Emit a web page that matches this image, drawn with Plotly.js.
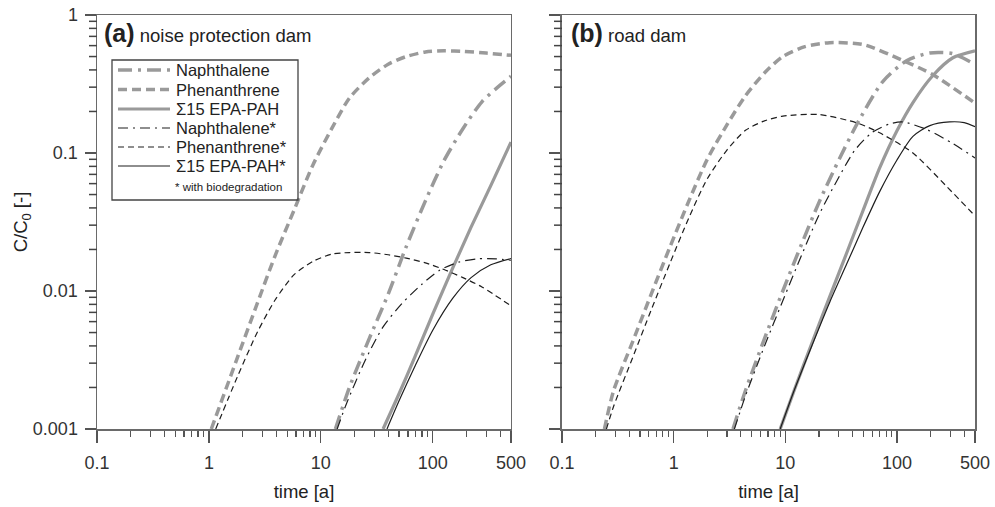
<!DOCTYPE html>
<html>
<head>
<meta charset="utf-8">
<script src="https://cdn.plot.ly/plotly-3.0.1.min.js"></script>
<style>html,body{margin:0;padding:0;background:#fff;}#chart{width:995px;height:507px;}</style>
</head>
<body>
<div id="chart"></div>
<script>
// ---------- data: panel (a) noise protection dam ----------
const seriesNames = ["Naphthalene", "Phenanthrene", "\u03A315 EPA-PAH", "Naphthalene*", "Phenanthrene*", "\u03A315 EPA-PAH*"];
const footnote = "* with biodegradation";

const aNaphT  = [13.5, 18, 27, 40, 58, 86, 126, 186, 275, 400, 500];
const aNaphC  = [0.001, 0.002, 0.0045, 0.0095, 0.021, 0.045, 0.088, 0.15, 0.235, 0.31, 0.36];
const aPhenT  = [1.05, 1.8, 2.7, 3.9, 5.8, 8.5, 12.5, 18, 27, 40, 58, 86, 126, 190, 300, 500];
const aPhenC  = [0.001, 0.0033, 0.0081, 0.018, 0.039, 0.082, 0.15, 0.25, 0.35, 0.44, 0.5, 0.54, 0.55, 0.545, 0.53, 0.51];
const aSumT   = [36, 50, 70, 100, 150, 220, 330, 500];
const aSumC   = [0.001, 0.0018, 0.0034, 0.0068, 0.0145, 0.029, 0.058, 0.12];
const aNaphBT = [14, 16.8, 24.7, 36, 53, 79, 116, 171, 250, 370, 500];
const aNaphBC = [0.001, 0.0015, 0.0031, 0.0055, 0.0081, 0.0111, 0.0142, 0.0162, 0.0171, 0.0171, 0.0167];
const aPhenBT = [1.15, 1.8, 2.7, 3.9, 5.8, 8.5, 12.5, 18, 27, 40, 58, 86, 126, 186, 275, 500];
const aPhenBC = [0.001, 0.0024, 0.005, 0.0086, 0.0132, 0.0164, 0.0185, 0.019, 0.019, 0.0183, 0.0173, 0.016, 0.0143, 0.0125, 0.0107, 0.0078];
const aSumBT  = [39, 50, 70, 100, 150, 220, 330, 500];
const aSumBC  = [0.001, 0.0016, 0.0029, 0.0052, 0.0088, 0.0125, 0.0155, 0.0172];

// ---------- data: panel (b) road dam ----------
const bNaphT  = [3.4, 4.4, 6.5, 9.5, 14, 20, 31, 46, 75, 123, 197, 317, 500];
const bNaphC  = [0.001, 0.0019, 0.0045, 0.01, 0.0219, 0.0437, 0.0933, 0.174, 0.331, 0.468, 0.531, 0.525, 0.437];
const bPhenT  = [0.24, 0.29, 0.43, 0.63, 0.93, 1.37, 2.0, 3.0, 4.4, 6.5, 9.5, 15, 25, 50, 112, 209, 500];
const bPhenC  = [0.001, 0.0019, 0.0043, 0.0095, 0.021, 0.045, 0.09, 0.16, 0.26, 0.38, 0.5, 0.59, 0.63, 0.61, 0.47, 0.37, 0.23];
const bSumT   = [9, 12, 17.7, 25, 35.6, 49.5, 70, 100, 140, 209, 317, 500];
const bSumC   = [0.001, 0.0019, 0.0044, 0.0091, 0.019, 0.038, 0.078, 0.145, 0.234, 0.363, 0.49, 0.55];
const bNaphBT = [3.5, 4.4, 6.5, 9.5, 14, 20, 29, 42, 60, 85, 112, 185, 317, 500];
const bNaphBC = [0.001, 0.00174, 0.00398, 0.0085, 0.0182, 0.0355, 0.063, 0.105, 0.141, 0.162, 0.168, 0.148, 0.117, 0.092];
const bPhenBT = [0.25, 0.29, 0.43, 0.63, 0.93, 1.37, 2.0, 3.0, 4.4, 6.5, 9.5, 20, 44, 70, 139, 280, 500];
const bPhenBC = [0.001, 0.00146, 0.0033, 0.0073, 0.016, 0.034, 0.065, 0.105, 0.146, 0.171, 0.185, 0.19, 0.165, 0.14, 0.1, 0.057, 0.035];
const bSumBT  = [9, 12, 17.7, 25, 35.6, 49.5, 70, 100, 139, 197, 296, 400, 500];
const bSumBC  = [0.001, 0.0019, 0.0042, 0.0083, 0.0158, 0.0288, 0.0525, 0.089, 0.132, 0.158, 0.168, 0.166, 0.155];

// ---------- ticks ----------
const xTickVals = [0.1, 1, 10, 100, 500];
const xTickText = ["0.1", "1", "10", "100", "500"];
const yTickVals = [0.001, 0.01, 0.1, 1];
const yTickText = ["0.001", "0.01", "0.1", "1"];
const yMinor = [0.002,0.003,0.004,0.005,0.006,0.007,0.008,0.009,0.02,0.03,0.04,0.05,0.06,0.07,0.08,0.09,0.2,0.3,0.4,0.5,0.6,0.7,0.8,0.9];

// ---------- styles ----------
const GRAY = "#9a9a9a", BLACK = "#1e1e1e";
const styles = [
  {color: GRAY, width: 3.5, dash: "14px,6px,3px,6px"},
  {color: GRAY, width: 3.5, dash: "9px,5px"},
  {color: GRAY, width: 3.2, dash: "solid"},
  {color: BLACK, width: 1.2, dash: "10px,5px,2px,5px"},
  {color: BLACK, width: 1.2, dash: "6px,4px"},
  {color: BLACK, width: 1.2, dash: "solid"}
];

const panelA = [[aNaphT,aNaphC],[aPhenT,aPhenC],[aSumT,aSumC],[aNaphBT,aNaphBC],[aPhenBT,aPhenBC],[aSumBT,aSumBC]];
const panelB = [[bNaphT,bNaphC],[bPhenT,bPhenC],[bSumT,bSumC],[bNaphBT,bNaphBC],[bPhenBT,bPhenBC],[bSumBT,bSumBC]];

const traces = [];
panelA.forEach((d, i) => traces.push({
  x: d[0], y: d[1], type: "scatter", mode: "lines", name: seriesNames[i],
  line: Object.assign({shape: "spline", smoothing: 0.7}, styles[i]),
  xaxis: "x", yaxis: "y", showlegend: false, hoverinfo: "skip"
}));
panelB.forEach((d, i) => traces.push({
  x: d[0], y: d[1], type: "scatter", mode: "lines", name: seriesNames[i],
  line: Object.assign({shape: "spline", smoothing: 0.7}, styles[i]),
  xaxis: "x2", yaxis: "y2", showlegend: false, hoverinfo: "skip"
}));

const FONT = "Liberation Sans, Arial, sans-serif";
const axisLine = {showline: true, linecolor: "#6a6a6a", linewidth: 1.5, mirror: true,
  showgrid: false, zeroline: false, ticks: "outside", tickcolor: "#555", tickwidth: 1.2};

function xAxis(domain, anchor) {
  return Object.assign({}, axisLine, {
    type: "log", domain: domain, anchor: anchor, range: [-1, Math.log10(500)],
    tickmode: "array", tickvals: xTickVals, ticktext: xTickText, ticklen: 12,
    ticklabelstandoff: 5,
    tickfont: {size: 18, color: "#333", family: FONT},
    minor: {dtick: "D1", ticks: "outside", ticklen: 6, tickcolor: "#555", tickwidth: 1.2, showgrid: false},
    title: {text: "time [a]", font: {size: 18.5, color: "#222", family: FONT}, standoff: 13}
  });
}
function yAxis(anchor, labels) {
  const ax = Object.assign({}, axisLine, {
    type: "log", anchor: anchor, range: [-3, 0], domain: [0, 1],
    tickmode: "array", tickvals: yTickVals, ticktext: yTickText, ticklen: 11,
    showticklabels: labels, ticklabelstandoff: 3,
    tickfont: {size: 18, color: "#333", family: FONT}
  });
  if (labels) ax.title = {text: "C/C<sub>0</sub> [-]", font: {size: 18.5, color: "#222", family: FONT}, standoff: 0};
  return ax;
}

// pixel helpers for layout decorations (legend box, minor y ticks)
const PX = p => (p - 97) / 878;
const PY = p => (429 - p) / 414;
const yFrac = v => (Math.log10(v) + 3) / 3;   // y axes span the full paper height, range 1e-3 .. 1

const legendRows = [70, 89.5, 109, 128, 147, 166];
const shapes = [{type: "rect", xref: "paper", yref: "paper", x0: PX(112), x1: PX(298), y0: PY(200), y1: PY(60),
  line: {color: "#444", width: 1.3}, fillcolor: "rgba(0,0,0,0)"}];
// minor y ticks (outside, left of each panel)
[97, 562].forEach(axPx => {
  yMinor.forEach(v => shapes.push({type: "line", xref: "paper", yref: "paper", layer: "above",
    x0: PX(axPx - 8), x1: PX(axPx), y0: yFrac(v), y1: yFrac(v),
    line: {color: "#444", width: 1.5}}));
});
const annotations = [
  {xref: "x domain", yref: "y domain", x: 0.013, y: 0.957, xanchor: "left", yanchor: "middle", showarrow: false,
   text: "<b><span style='font-size:25px'>(a)</span></b> noise protection dam", font: {size: 18.5, color: "#222", family: FONT}},
  {xref: "x2 domain", yref: "y2 domain", x: 0.018, y: 0.957, xanchor: "left", yanchor: "middle", showarrow: false,
   text: "<b><span style='font-size:25px'>(b)</span></b> road dam", font: {size: 18.5, color: "#222", family: FONT}},
  {xref: "paper", yref: "paper", x: PX(173), y: PY(187), xanchor: "left", yanchor: "middle", showarrow: false,
   text: footnote, font: {size: 11.5, color: "#222", family: FONT}}
];
seriesNames.forEach((nm, i) => {
  shapes.push({type: "line", xref: "paper", yref: "paper", x0: PX(118), x1: PX(170), y0: PY(legendRows[i]), y1: PY(legendRows[i]),
    line: {color: styles[i].color, width: styles[i].width, dash: styles[i].dash}});
  annotations.push({xref: "paper", yref: "paper", x: PX(174), y: PY(legendRows[i]), xanchor: "left", yanchor: "middle",
    showarrow: false, text: nm, font: {size: 16.5, color: "#222", family: FONT}});
});

const layout = {
  width: 995, height: 507,
  margin: {l: 97, r: 20, t: 15, b: 78},
  paper_bgcolor: "#fff", plot_bgcolor: "#fff",
  font: {family: FONT, color: "#222"},
  xaxis: xAxis([0, 0.4715], "y"),
  yaxis: yAxis("x", true),
  xaxis2: xAxis([0.5296, 1], "y2"),
  yaxis2: yAxis("x2", false),
  showlegend: false,
  shapes: shapes,
  annotations: annotations
};

Plotly.newPlot("chart", traces, layout, {staticPlot: true, displayModeBar: false});
</script>
</body>
</html>
